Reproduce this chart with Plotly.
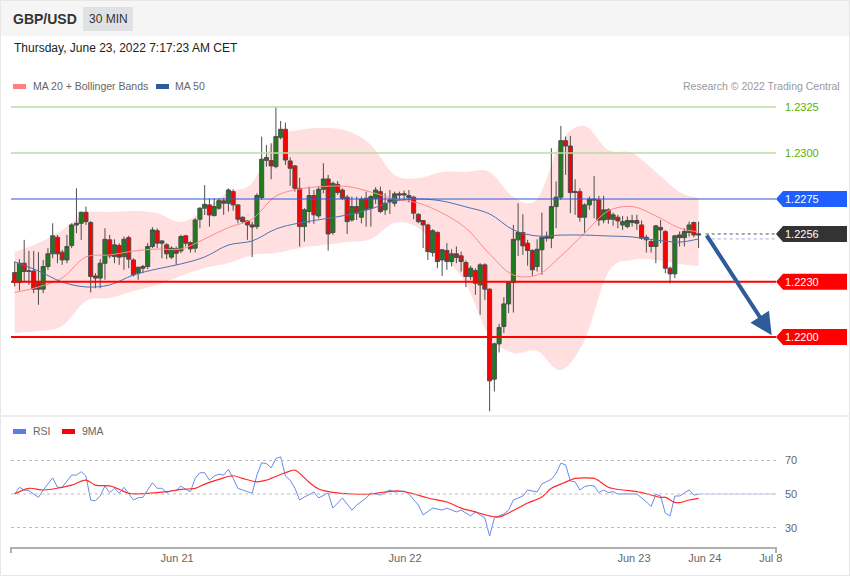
import plotly.graph_objects as go

# ---------------- DATA ----------------
# 30-minute GBP/USD candles (oldest -> newest)
open_ = [
    1.22350, 1.22296, 1.22401, 1.22356, 1.22359, 1.22302, 1.22260, 1.22383, 1.22452, 1.22542,
    1.22461, 1.22419, 1.22497, 1.22609, 1.22618, 1.22678, 1.22622, 1.22332, 1.22320, 1.22401,
    1.22528, 1.22437, 1.22497, 1.22437, 1.22540, 1.22419, 1.22347, 1.22383, 1.22383, 1.22492,
    1.22578, 1.22510, 1.22501, 1.22434, 1.22479, 1.22468, 1.22550, 1.22513, 1.22483, 1.22640,
    1.22700, 1.22718, 1.22660, 1.22700, 1.22740, 1.22727, 1.22790, 1.22718, 1.22651, 1.22631,
    1.22609, 1.22600, 1.22758, 1.22960, 1.22959, 1.22926, 1.23085, 1.23129, 1.22957, 1.22930,
    1.22808, 1.22600, 1.22682, 1.22769, 1.22658, 1.22803, 1.22859, 1.22568, 1.22830, 1.22799,
    1.22760, 1.22636, 1.22709, 1.22651, 1.22754, 1.22700, 1.22754, 1.22790, 1.22691, 1.22736,
    1.22727, 1.22778, 1.22772, 1.22769, 1.22760, 1.22667, 1.22633, 1.22609, 1.22459, 1.22569,
    1.22419, 1.22470, 1.22410, 1.22452, 1.22441, 1.22405, 1.22329, 1.22361, 1.22283, 1.22392,
    1.22260, 1.21771, 1.21963, 1.22057, 1.22180, 1.22296, 1.22528, 1.22568, 1.22510, 1.22470,
    1.22383, 1.22474, 1.22537, 1.22537, 1.22709, 1.22760, 1.23067, 1.23038, 1.22785, 1.22790,
    1.22651, 1.22718, 1.22749, 1.22745, 1.22636, 1.22691, 1.22640, 1.22651, 1.22609, 1.22600,
    1.22622, 1.22633, 1.22609, 1.22542, 1.22519, 1.22492, 1.22595, 1.22573, 1.22374, 1.22343,
    1.22555, 1.22540, 1.22568, 1.22622, 1.22554,
]
high = [
    1.22410, 1.22423, 1.22528, 1.22468, 1.22468, 1.22461, 1.22419, 1.22483, 1.22618, 1.22555,
    1.22474, 1.22555, 1.22618, 1.22808, 1.22682, 1.22709, 1.22630, 1.22347, 1.22423, 1.22591,
    1.22555, 1.22531, 1.22510, 1.22546, 1.22550, 1.22428, 1.22383, 1.22392, 1.22510, 1.22597,
    1.22591, 1.22528, 1.22510, 1.22492, 1.22492, 1.22555, 1.22555, 1.22520, 1.22646, 1.22705,
    1.22826, 1.22754, 1.22754, 1.22754, 1.22754, 1.22808, 1.22803, 1.22720, 1.22655, 1.22636,
    1.22627, 1.22781, 1.23089, 1.23044, 1.23053, 1.23248, 1.23174, 1.23165, 1.22976, 1.22935,
    1.22866, 1.22700, 1.22817, 1.22799, 1.22821, 1.22944, 1.22881, 1.22845, 1.22848, 1.22808,
    1.22772, 1.22763, 1.22763, 1.22763, 1.22790, 1.22772, 1.22814, 1.22817, 1.22781, 1.22799,
    1.22790, 1.22790, 1.22796, 1.22799, 1.22767, 1.22673, 1.22636, 1.22615, 1.22586, 1.22573,
    1.22477, 1.22510, 1.22477, 1.22492, 1.22464, 1.22416, 1.22387, 1.22374, 1.22401, 1.22401,
    1.22265, 1.21970, 1.22072, 1.22216, 1.22302, 1.22609, 1.22727, 1.22667, 1.22528, 1.22477,
    1.22531, 1.22676, 1.22573, 1.23026, 1.22845, 1.23147, 1.23089, 1.23093, 1.22857, 1.22808,
    1.22727, 1.22763, 1.22875, 1.22767, 1.22767, 1.22700, 1.22676, 1.22664, 1.22658, 1.22655,
    1.22664, 1.22664, 1.22633, 1.22555, 1.22531, 1.22609, 1.22636, 1.22582, 1.22383, 1.22555,
    1.22573, 1.22591, 1.22627, 1.22627, 1.22627,
]
low = [
    1.22274, 1.22253, 1.22302, 1.22283, 1.22238, 1.22175, 1.22238, 1.22365, 1.22428, 1.22401,
    1.22392, 1.22401, 1.22483, 1.22564, 1.22528, 1.22609, 1.22242, 1.22265, 1.22265, 1.22311,
    1.22428, 1.22401, 1.22392, 1.22365, 1.22374, 1.22329, 1.22311, 1.22347, 1.22369, 1.22483,
    1.22483, 1.22428, 1.22423, 1.22423, 1.22392, 1.22455, 1.22492, 1.22459, 1.22459, 1.22591,
    1.22663, 1.22600, 1.22655, 1.22691, 1.22664, 1.22682, 1.22687, 1.22618, 1.22618, 1.22528,
    1.22434, 1.22586, 1.22745, 1.22926, 1.22857, 1.22917, 1.23074, 1.22935, 1.22821, 1.22790,
    1.22492, 1.22519, 1.22618, 1.22615, 1.22645, 1.22781, 1.22470, 1.22555, 1.22772, 1.22745,
    1.22560, 1.22627, 1.22636, 1.22618, 1.22600, 1.22600, 1.22723, 1.22673, 1.22664, 1.22669,
    1.22709, 1.22745, 1.22745, 1.22731, 1.22640, 1.22618, 1.22483, 1.22419, 1.22437, 1.22374,
    1.22332, 1.22365, 1.22383, 1.22401, 1.22356, 1.22271, 1.22311, 1.22229, 1.22121, 1.22202,
    1.21596, 1.21704, 1.21916, 1.22021, 1.22130, 1.22133, 1.22441, 1.22446, 1.22387, 1.22332,
    1.22356, 1.22338, 1.22519, 1.22483, 1.22591, 1.22745, 1.22881, 1.22673, 1.22664, 1.22627,
    1.22564, 1.22691, 1.22645, 1.22604, 1.22618, 1.22615, 1.22604, 1.22591, 1.22582, 1.22591,
    1.22600, 1.22582, 1.22528, 1.22459, 1.22459, 1.22401, 1.22510, 1.22347, 1.22292, 1.22320,
    1.22492, 1.22492, 1.22546, 1.22542, 1.22483,
]
close = [
    1.22296, 1.22401, 1.22356, 1.22359, 1.22260, 1.22260, 1.22383, 1.22452, 1.22550, 1.22452,
    1.22419, 1.22492, 1.22609, 1.22618, 1.22678, 1.22627, 1.22329, 1.22320, 1.22401, 1.22531,
    1.22441, 1.22501, 1.22434, 1.22531, 1.22423, 1.22338, 1.22379, 1.22374, 1.22492, 1.22582,
    1.22510, 1.22522, 1.22452, 1.22483, 1.22455, 1.22546, 1.22510, 1.22479, 1.22636, 1.22700,
    1.22721, 1.22663, 1.22709, 1.22741, 1.22727, 1.22799, 1.22718, 1.22640, 1.22627, 1.22609,
    1.22598, 1.22769, 1.22966, 1.22975, 1.22930, 1.23089, 1.23129, 1.22962, 1.22917, 1.22808,
    1.22600, 1.22691, 1.22769, 1.22664, 1.22803, 1.22859, 1.22560, 1.22835, 1.22785, 1.22754,
    1.22627, 1.22709, 1.22673, 1.22749, 1.22694, 1.22763, 1.22799, 1.22682, 1.22727, 1.22745,
    1.22778, 1.22772, 1.22778, 1.22758, 1.22673, 1.22627, 1.22609, 1.22464, 1.22578, 1.22410,
    1.22474, 1.22410, 1.22452, 1.22432, 1.22410, 1.22329, 1.22374, 1.22292, 1.22392, 1.22260,
    1.21762, 1.21963, 1.22052, 1.22180, 1.22296, 1.22531, 1.22568, 1.22495, 1.22470, 1.22365,
    1.22477, 1.22542, 1.22546, 1.22709, 1.22760, 1.23067, 1.23038, 1.22785, 1.22790, 1.22651,
    1.22718, 1.22749, 1.22745, 1.22636, 1.22691, 1.22640, 1.22664, 1.22631, 1.22627, 1.22633,
    1.22633, 1.22618, 1.22537, 1.22528, 1.22492, 1.22604, 1.22582, 1.22374, 1.22343, 1.22550,
    1.22540, 1.22573, 1.22609, 1.22555, 1.22560,
]

# indicator readings at every 5th candle
band_idx = [0, 5, 10, 15, 20, 25, 30, 35, 40, 45, 50, 55, 60, 65, 70, 75, 80, 85, 90, 95,
            100, 105, 110, 115, 120, 125, 130, 135, 140, 144]
bb_upper = [1.22462, 1.22511, 1.22582, 1.22674, 1.22679, 1.22685, 1.22674, 1.22625, 1.22690, 1.22788,
            1.22837, 1.23082, 1.23125, 1.23136, 1.23120, 1.23044, 1.22880, 1.22864, 1.22897, 1.22897,
            1.22897, 1.22761, 1.22750, 1.23060, 1.23147, 1.23016, 1.23000, 1.22897, 1.22788, 1.22755]
bb_lower = [1.22022, 1.22033, 1.22060, 1.22196, 1.22212, 1.22250, 1.22283, 1.22332, 1.22375, 1.22402,
            1.22446, 1.22457, 1.22484, 1.22500, 1.22516, 1.22533, 1.22620, 1.22592, 1.22451, 1.22288,
            1.22005, 1.21913, 1.21924, 1.21821, 1.21984, 1.22353, 1.22419, 1.22419, 1.22397, 1.22386]
ma20 = [1.22242, 1.22272, 1.22321, 1.22435, 1.22446, 1.22467, 1.22478, 1.22478, 1.22533, 1.22595,
        1.22641, 1.22766, 1.22804, 1.22818, 1.22818, 1.22788, 1.22750, 1.22728, 1.22674, 1.22592,
        1.22451, 1.22337, 1.22337, 1.22440, 1.22565, 1.22685, 1.22709, 1.22658, 1.22592, 1.22571]
ma50 = [1.22408, 1.22359, 1.22299, 1.22272, 1.22283, 1.22337, 1.22370, 1.22397, 1.22435, 1.22500,
        1.22522, 1.22587, 1.22620, 1.22641, 1.22663, 1.22696, 1.22739, 1.22750, 1.22739, 1.22707,
        1.22669, 1.22582, 1.22549, 1.22554, 1.22554, 1.22549, 1.22544, 1.22527, 1.22516, 1.22533]

# RSI and its 9-period MA
rsi_idx = [0, 1, 2, 3, 5, 6, 8, 9, 10,
           12, 13, 14, 15, 16, 17, 18, 19, 20, 21, 22, 23,
           25, 26, 27, 28, 29, 30, 31, 32, 33, 34, 35, 36, 37, 38, 39, 40, 41, 42, 43, 44, 45, 46, 47, 48,
           50, 51, 52, 53, 54, 55, 56, 57, 58, 59, 60, 61,
           63, 64, 66, 67, 69, 71, 72, 74, 75, 77, 79, 80, 82, 83, 85, 86, 88, 90, 91, 93, 94, 96, 97, 99, 100, 101,
           103, 104, 105, 107, 108, 110, 111,
           113, 114, 115, 116, 117, 118, 119, 120, 121, 122, 123, 124, 125, 126, 127,
           129, 131, 133, 134, 135, 136, 137, 138, 139, 140, 142, 143, 144]
rsi_val = [50, 54, 52.4, 52, 48, 52.4, 59.7, 54, 54,
           61.3, 61.3, 63.3, 60.7, 46.4, 46, 48.8, 54.8, 50.8, 53.4, 50.4, 54,
           46.4, 47.8, 48, 52.4, 56.7, 53.4, 53.4, 50.8, 52, 52, 54.8, 52.8, 51.4, 59.3, 62.7, 62.7, 58.3, 60.7, 61.9, 61.3, 64.7, 59.3, 53.4, 52.4,
           50.4, 61.3, 68.6, 68.2, 65.6, 71.2, 72.2, 60.7, 58.3, 53.4, 46.4, 48.2,
           51.2, 47.6, 50.6, 41.6, 47.6, 40.4, 43.4, 47.6, 50.6, 49.4, 52.4, 51.2, 51.8, 50, 43.4, 37.5, 41.6, 40.4, 41.6, 39.3, 40.4, 36.9, 39.3, 35.7, 24.9, 35.7,
           38.1, 40.4, 46.4, 48.8, 52.4, 51.2, 56,
           58.8, 62.3, 68.4, 67.4, 57.7, 57.3, 52.4, 54.4, 55.1, 54.8, 50.8, 52.4, 50.8, 51.4, 50,
           50, 50, 45.4, 42.5, 49.8, 48.8, 38.5, 36.9, 48.8, 48.8, 52.4, 49.4, 49.8]
rsi_ma_idx = [0, 3, 6, 10, 12, 15, 17, 20, 22, 24, 28, 32, 35, 38, 40, 43, 46, 48, 51, 53,
              54, 57, 59, 60, 62, 64, 67, 71, 75, 78, 81, 84, 87, 91, 94, 97, 100, 102, 104, 106,
              108, 111, 113, 115, 117, 118, 122, 123, 125, 128, 131, 134, 136, 137, 139, 140, 142, 144]
rsi_ma_val = [50, 53.4, 52.4, 54, 55.3, 58.3, 55.3, 54.8, 52.8, 50.4, 50.4, 51.4, 52.8, 53.4, 55.9, 58.7, 60.9, 59.3, 57.3, 58.3,
              59.3, 62.7, 64.3, 62.3, 57, 53, 51, 50, 50, 51.2, 51.8, 50, 47.6, 45.2, 41.6, 39.3, 36.9, 36.3, 38.7, 41.6,
              44.6, 48.2, 53.4, 55.9, 58.3, 59.3, 59.3, 57.9, 54, 52.4, 51.4, 49.4, 48, 48, 45, 44.9, 46.4, 47.4]
rsi_levels = [70, 50, 30]

# key levels (resistance / pivot / last / support)
level_vals = [1.2325, 1.2300, 1.2275, 1.2256, 1.2230, 1.2200]
level_text = ["1.2325", "1.2300", "1.2275", "1.2256", "1.2230", "1.2200"]
target_price = 1.2200

x_tick_labels = ["Jun 21", "Jun 22", "Jun 23", "Jun 24", "Jul 8"]

# ---------------- FIGURE ----------------
FONT = "Liberation Sans, Arial, sans-serif"
X_MIN, X_MAX = -0.78, 160.3
P_MIN, P_MAX = 1.2158696, 1.2347826
R_MIN, R_MAX = 18.36, 82.24
n = len(close)
idx = list(range(n))


def xp(px):
    return (px - 11) / 765.0


def yp(py):
    return (547 - py) / 482.0


def smooth_segments(xs, ys, start=True):
    """Catmull-Rom curve through the given data points, as SVG path commands."""
    pts = list(zip(xs, ys))
    cmd = ("M" if start else "L") + f"{pts[0][0]:.4f},{pts[0][1]:.6f}"
    for i in range(len(pts) - 1):
        p0 = pts[i - 1] if i > 0 else pts[i]
        p1, p2 = pts[i], pts[i + 1]
        p3 = pts[i + 2] if i + 2 < len(pts) else pts[i + 1]
        c1 = (p1[0] + (p2[0] - p0[0]) / 6, p1[1] + (p2[1] - p0[1]) / 6)
        c2 = (p2[0] - (p3[0] - p1[0]) / 6, p2[1] - (p3[1] - p1[1]) / 6)
        cmd += f" C{c1[0]:.4f},{c1[1]:.6f} {c2[0]:.4f},{c2[1]:.6f} {p2[0]:.4f},{p2[1]:.6f}"
    return cmd


band_path = (smooth_segments(band_idx, bb_upper)
             + " " + smooth_segments(band_idx[::-1], bb_lower[::-1], start=False) + " Z")

fig = go.Figure()
fig.add_trace(go.Scatter(x=band_idx, y=ma20, mode="lines",
                         line=dict(color="#ff8a8a", width=1, shape="spline"), showlegend=False))
fig.add_trace(go.Scatter(x=band_idx, y=ma50, mode="lines",
                         line=dict(color="#4f72b0", width=1, shape="spline"), showlegend=False))
fig.add_trace(go.Candlestick(
    x=idx, open=open_, high=high, low=low, close=close,
    increasing=dict(fillcolor="#1a7f1a", line=dict(color="#4d4d4d", width=1)),
    decreasing=dict(fillcolor="#ff0000", line=dict(color="#4d4d4d", width=1)),
    whiskerwidth=0, showlegend=False))

fig.add_trace(go.Scatter(x=rsi_idx, y=rsi_val, yaxis="y2", mode="lines",
                         line=dict(color="#6a8be6", width=1), showlegend=False))
fig.add_trace(go.Scatter(x=rsi_ma_idx, y=rsi_ma_val, yaxis="y2", mode="lines",
                         line=dict(color="#ff2a2a", width=1.2, shape="spline"), showlegend=False))

shapes = []
annotations = []

# Bollinger band fill, drawn beneath the candles
shapes.append(dict(type="path", xref="x", yref="y", path=band_path,
                   fillcolor="rgba(255,185,185,0.45)", line=dict(width=0), layer="below"))

# header band
shapes.append(dict(type="rect", xref="paper", yref="paper", x0=xp(0), x1=xp(850), y0=yp(36), y1=yp(0),
                   fillcolor="#f5f5f5", line=dict(width=0), layer="below"))
shapes.append(dict(type="rect", xref="paper", yref="paper", x0=xp(83), x1=xp(133), y0=yp(31), y1=yp(7),
                   fillcolor="#dfe1e5", line=dict(width=0), layer="below"))
# outer frame and panel divider
shapes.append(dict(type="rect", xref="paper", yref="paper", x0=xp(0.5), x1=xp(849.5), y0=yp(575.5), y1=yp(0.5),
                   line=dict(color="#e6e6e6", width=1)))
shapes.append(dict(type="line", xref="paper", yref="paper", x0=xp(0), x1=xp(850), y0=yp(416), y1=yp(416),
                   line=dict(color="#eeeeee", width=2)))

# legend swatches
shapes.append(dict(type="rect", xref="paper", yref="paper", x0=xp(13), x1=xp(26), y0=yp(89), y1=yp(84),
                   fillcolor="#ff8080", line=dict(width=0)))
shapes.append(dict(type="rect", xref="paper", yref="paper", x0=xp(156), x1=xp(169), y0=yp(89), y1=yp(84),
                   fillcolor="#2e5c9a", line=dict(width=0)))
shapes.append(dict(type="rect", xref="paper", yref="paper", x0=xp(13), x1=xp(26), y0=yp(434), y1=yp(429),
                   fillcolor="#5b7fe0", line=dict(width=0)))
shapes.append(dict(type="rect", xref="paper", yref="paper", x0=xp(62), x1=xp(75), y0=yp(434), y1=yp(429),
                   fillcolor="#ff0000", line=dict(width=0)))

# key level lines + tags
level_style = [
    dict(line="#b9dca3", w=1.5, dash="solid", tag=None, txt="#5cb000"),
    dict(line="#b9dca3", w=1.5, dash="solid", tag=None, txt="#5cb000"),
    dict(line="#2a5bd7", w=1, dash="solid", tag="#1f5fff", txt="white"),
    dict(line="#555555", w=1, dash="dot", tag="#333333", txt="white"),
    dict(line="#ff0000", w=2, dash="solid", tag="#ff0000", txt="white"),
    dict(line="#ff0000", w=2, dash="solid", tag="#ff0000", txt="white"),
]
for lv, lt, st in zip(level_vals, level_text, level_style):
    if st["dash"] == "dot":
        shapes.append(dict(type="line", xref="x", yref="y", x0=n + 0.5, x1=X_MAX, y0=lv, y1=lv,
                           line=dict(color=st["line"], width=st["w"], dash="dot")))
    else:
        shapes.append(dict(type="line", xref="paper", yref="y", x0=0, x1=1, y0=lv, y1=lv,
                           line=dict(color=st["line"], width=st["w"])))
    if st["tag"]:
        shapes.append(dict(type="path", xref="paper", yref="y", xsizemode="pixel", ysizemode="pixel",
                           xanchor=1, yanchor=lv, path="M0,0 L7,-8 L71,-8 L71,8 L7,8 Z",
                           fillcolor=st["tag"], line=dict(width=0)))
    annotations.append(dict(x=1, xref="paper", y=lv, yref="y", xshift=7, xanchor="left", yanchor="middle",
                            text=lt, showarrow=False, font=dict(family=FONT, size=11, color=st["txt"])))

# MA50 dotted extension
shapes.append(dict(type="line", xref="x", yref="y", x0=n + 0.5, x1=X_MAX, y0=ma50[-1], y1=ma50[-1],
                   line=dict(color="#9cb0d8", width=1, dash="dot")))

# RSI grid lines + labels
for rl in rsi_levels:
    shapes.append(dict(type="line", xref="paper", yref="y2", x0=0, x1=1, y0=rl, y1=rl,
                       line=dict(color="#bdbdbd", width=1, dash="dot")))
    annotations.append(dict(x=1, xref="paper", y=rl, yref="y2", xshift=7, xanchor="left", yanchor="middle",
                            text=str(rl), showarrow=False, font=dict(family=FONT, size=11, color="#666666")))
shapes.append(dict(type="line", xref="x", yref="y2", x0=rsi_idx[-1], x1=X_MAX, y0=50, y1=50,
                   line=dict(color="#9fb4ee", width=1, dash="dot")))

# axis end ticks
for xx in (0, 1):
    shapes.append(dict(type="line", xref="paper", yref="paper", x0=xx, x1=xx, y0=yp(547), y1=yp(553),
                       line=dict(color="#b0b0b0", width=2)))

# forecast arrow
annotations.append(dict(x=159.4, y=target_price + 0.0001, xref="x", yref="y",
                        ax=n + 0.5, ay=level_vals[3], axref="x", ayref="y",
                        showarrow=True, arrowhead=2, arrowsize=1.1, arrowwidth=4,
                        arrowcolor="#2e5c9a", text=""))

# texts
annotations += [
    dict(x=xp(11), y=yp(19), xref="paper", yref="paper", xanchor="left", yanchor="middle", showarrow=False,
         text="<b>GBP/USD</b>", font=dict(family=FONT, size=14, color="#333333")),
    dict(x=xp(108), y=yp(19), xref="paper", yref="paper", xanchor="center", yanchor="middle", showarrow=False,
         text="30 MIN", font=dict(family=FONT, size=12, color="#333333")),
    dict(x=xp(12), y=yp(48.5), xref="paper", yref="paper", xanchor="left", yanchor="middle", showarrow=False,
         text="Thursday, June 23, 2022 7:17:23 AM CET", font=dict(family=FONT, size=12, color="#222222")),
    dict(x=xp(31), y=yp(86), xref="paper", yref="paper", xanchor="left", yanchor="middle", showarrow=False,
         text="MA 20 + Bollinger Bands", font=dict(family=FONT, size=10.5, color="#666666")),
    dict(x=xp(173), y=yp(86), xref="paper", yref="paper", xanchor="left", yanchor="middle", showarrow=False,
         text="MA 50", font=dict(family=FONT, size=10.5, color="#666666")),
    dict(x=xp(842), y=yp(86), xref="paper", yref="paper", xanchor="right", yanchor="middle", showarrow=False,
         text="Research © 2022 Trading Central", font=dict(family=FONT, size=10.5, color="#999999")),
    dict(x=xp(31), y=yp(431), xref="paper", yref="paper", xanchor="left", yanchor="middle", showarrow=False,
         text="RSI", font=dict(family=FONT, size=10.5, color="#666666")),
    dict(x=xp(80), y=yp(431), xref="paper", yref="paper", xanchor="left", yanchor="middle", showarrow=False,
         text="9MA", font=dict(family=FONT, size=10.5, color="#666666")),
]

fig.update_layout(
    width=850, height=576,
    margin=dict(l=11, r=74, t=65, b=29),
    paper_bgcolor="white", plot_bgcolor="white",
    showlegend=False,
    font=dict(family=FONT),
    boxgap=0.1, boxgroupgap=0.05,
    xaxis=dict(range=[X_MIN, X_MAX], anchor="y2", showgrid=False, zeroline=False,
               showline=True, linecolor="#b0b0b0", linewidth=2, ticks="",
               tickvals=[34.2, 82.2, 130.4, 145.3, 159.2], ticktext=x_tick_labels,
               tickfont=dict(family=FONT, size=11, color="#666666"),
               rangeslider=dict(visible=False)),
    yaxis=dict(domain=[0.278, 1], range=[P_MIN, P_MAX], visible=False, fixedrange=True),
    yaxis2=dict(domain=[0, 0.222], range=[R_MIN, R_MAX], visible=False, fixedrange=True),
    shapes=shapes, annotations=annotations,
)

fig.write_html("out.html", config={"displayModeBar": False},
               post_script="document.body.style.margin='0';document.body.style.overflow='hidden';")
